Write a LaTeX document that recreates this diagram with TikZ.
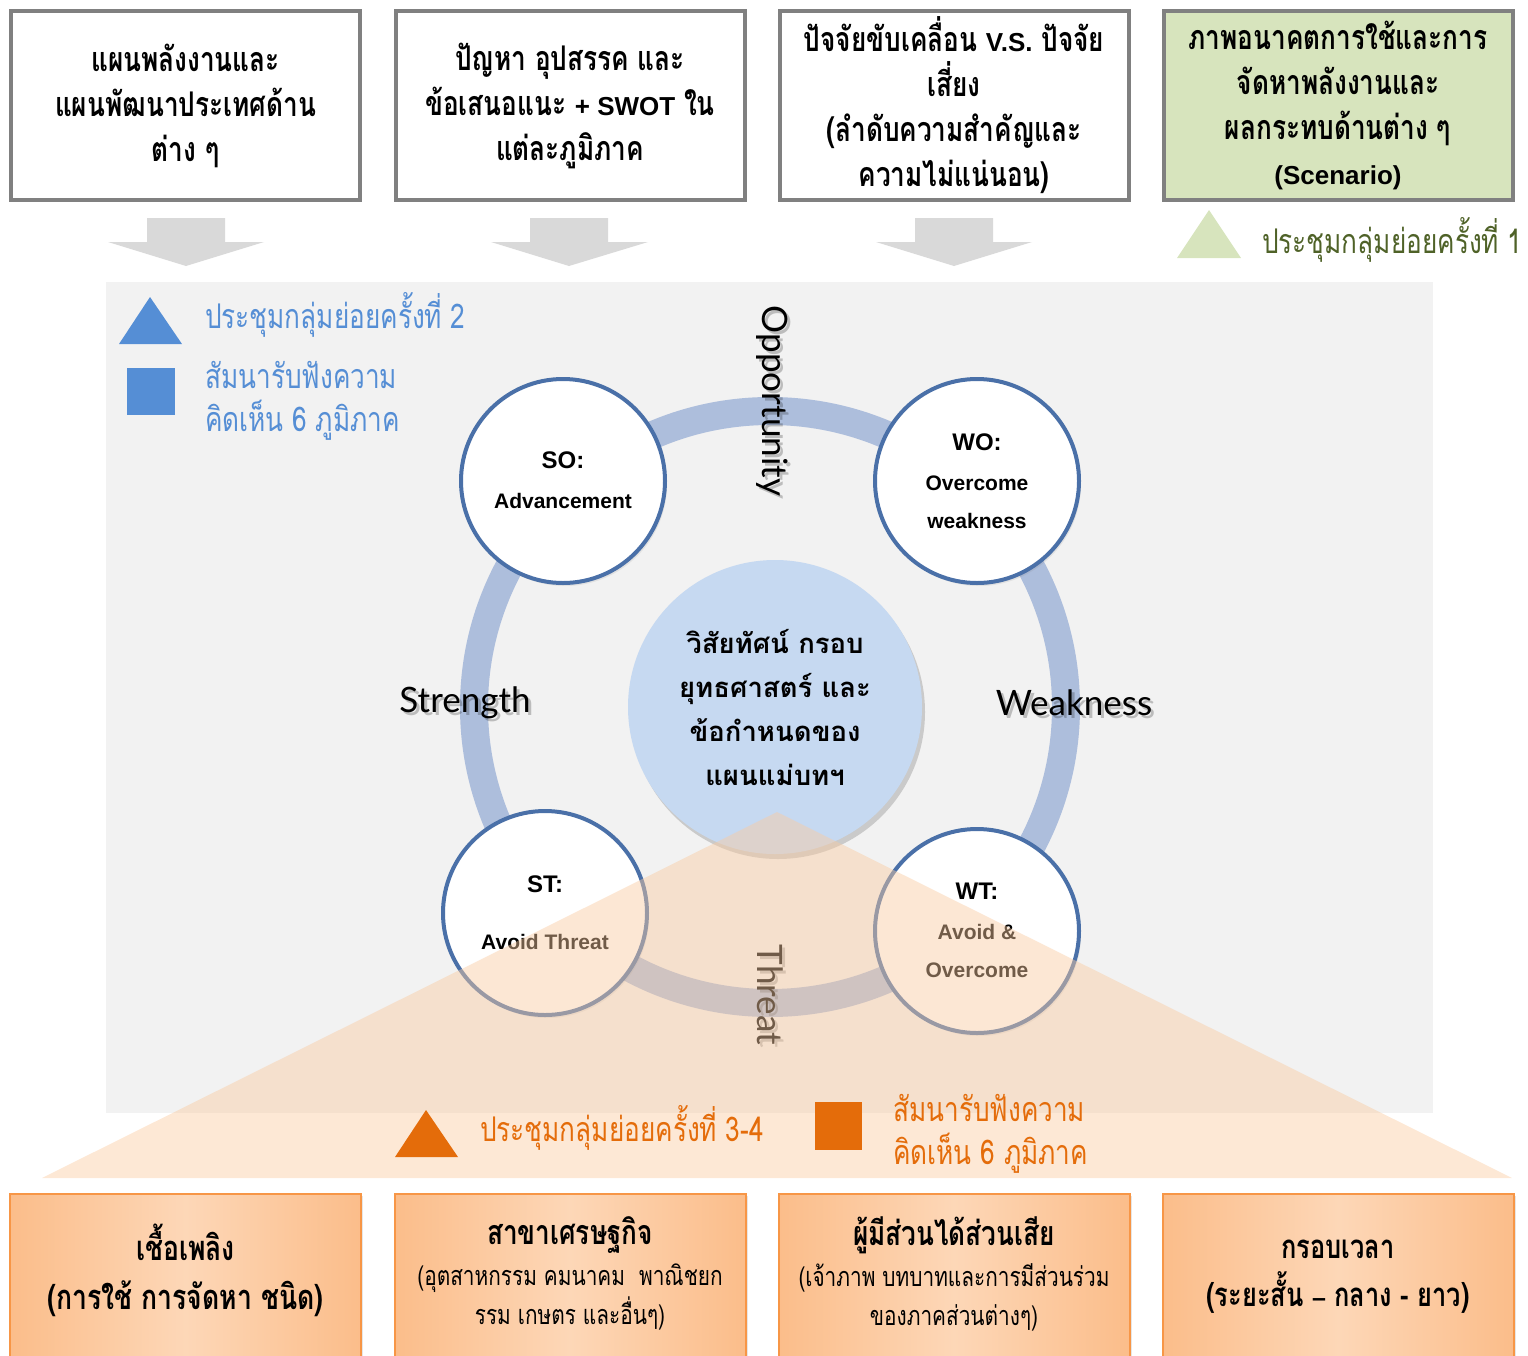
\documentclass[tikz,border=0pt]{standalone}
\usepackage{fontspec}
\setmainfont{Liberation Sans}
\newfontfamily\thai[Script=Thai]{Loma}
\newfontfamily\thaic[Script=Thai,FakeStretch=0.77]{Loma}
\newfontfamily\lsans{Liberation Sans}
\newfontfamily\gill{Lato}
\usetikzlibrary{shadows}
\definecolor{panel}{HTML}{F2F2F2}
\definecolor{arrowgray}{HTML}{D9D9D9}
\definecolor{boxgray}{HTML}{808080}
\definecolor{scen}{HTML}{D7E4BD}
\definecolor{olive}{HTML}{4F6228}
\definecolor{legblue}{HTML}{558ED5}
\definecolor{ringc}{HTML}{ADBEDC}
\definecolor{circb}{HTML}{4A70A8}
\definecolor{core}{HTML}{C6D9F1}
\definecolor{overlayc}{HTML}{FACBA1}
\definecolor{legorange}{HTML}{E46C0A}
\definecolor{orEdge}{HTML}{FBBD8A}
\definecolor{orMid}{HTML}{FDD7B7}
\definecolor{orBorder}{HTML}{F79646}
\newcommand\latinbit[1]{{\lsans\bfseries\fontsize{26}{45}\selectfont #1}}
\begin{document}
\begin{tikzpicture}[x=1pt,y=-1pt,
  topbox/.style={draw=boxgray, line width=4pt, fill=white, minimum width=349pt, minimum height=189pt, align=center, inner sep=0pt,
    drop shadow={opacity=0.25, shadow xshift=2pt, shadow yshift=-2pt},
    font=\thaic\bfseries\fontsize{34}{45}\selectfont},
  botbox/.style={draw=orBorder, line width=2pt, left color=orEdge, right color=orEdge, middle color=orMid,
    minimum width=351pt, minimum height=172pt, align=center, inner sep=0pt,
    drop shadow={opacity=0.2, shadow xshift=2pt, shadow yshift=-2pt}},
  circ/.style={circle, draw=circb, line width=4pt, fill=white, minimum size=204pt, inner sep=0pt},
  clbl/.style={font=\lsans\bfseries\fontsize{21}{24}\selectfont, inner sep=0pt},
  chead/.style={font=\lsans\bfseries\fontsize{24}{28}\selectfont, inner sep=0pt},
  swot/.style={font=\gill\fontsize{35}{40}\selectfont, inner sep=0pt},
  swotshadow/.style={font=\gill\fontsize{35}{40}\selectfont, inner sep=0pt, text=black, opacity=0.22},
  legtext/.style={font=\thaic\fontsize{34}{43}\selectfont, inner sep=0pt, anchor=west, align=left},
  blkarrow/.style={fill=arrowgray}
]
\useasboundingbox (0,0) rectangle (1528,1355);
\clip (0,0) rectangle (1528,1355);

% grey panel
\fill[panel] (106,282) rectangle (1433,1113);

% top boxes
\node[topbox] (b1) at (185.5,105.5) {แผนพลังงานและ\\แผนพัฒนาประเทศด้าน\\ต่าง ๆ};
\node[topbox] (b2) at (570,105.5) {ปัญหา อุปสรรค และ\\ข้อเสนอแนะ \latinbit{+ SWOT} ใน\\แต่ละภูมิภาค};
\node[topbox] (b3) at (954,105.5) {ปัจจัยขับเคลื่อน \latinbit{V.S.} ปัจจัย\\เสี่ยง\\(ลำดับความสำคัญและ\\ความไม่แน่นอน)};
\node[topbox, fill=scen] (b4) at (1338,105.5) {ภาพอนาคตการใช้และการ\\จัดหาพลังงานและ\\ผลกระทบด้านต่าง ๆ\\\latinbit{(Scenario)}};

% block arrows
\fill[blkarrow] (147,218) -- (225,218) -- (225,242) -- (264,242) -- (186,266) -- (108,242) -- (147,242) -- cycle;
\fill[blkarrow] (530,218) -- (608,218) -- (608,242) -- (648,242) -- (569,266) -- (491,242) -- (530,242) -- cycle;
\fill[blkarrow] (915,218) -- (993,218) -- (993,242) -- (1032,242) -- (954,266) -- (876,242) -- (915,242) -- cycle;

% legend 1
\fill[scen] (1177,258) -- (1241,258) -- (1209,210) -- cycle;
\node[legtext, text=olive] (leg1) at (1262,240) {ประชุมกลุ่มย่อยครั้งที่ 1};

% legend 2
\fill[legblue] (119,344) -- (182,344) -- (150,297) -- cycle;
\fill[legblue] (127,368) rectangle (175,415);
\node[legtext, text=legblue] (leg2) at (205,315) {ประชุมกลุ่มย่อยครั้งที่ 2};
\node[legtext, text=legblue] (leg2b) at (205,401) {สัมนารับฟังความ\\คิดเห็น 6 ภูมิภาค};

% ring
\draw[ringc, line width=28pt] (770,707) circle (296);

% labels with shadows
\node[swotshadow, rotate=-90] at (775,404) {Opportunity};
\node[swot, rotate=-90] (opp) at (772,401) {Opportunity};
\node[swotshadow] at (468,706) {Strength};
\node[swot] (str) at (465,703) {Strength};
\node[swotshadow] at (1077,706) {Weakness};
\node[swot] (weak) at (1074,703) {Weakness};
\node[swotshadow, rotate=-90] at (773,998) {Threat};
\node[swot, rotate=-90] (thr) at (770,995) {Threat};

% SWOT circles
\node[circ, drop shadow={opacity=0.15, shadow xshift=2pt, shadow yshift=-3pt}] (so) at (563,481) {};
\node[circ, drop shadow={opacity=0.15, shadow xshift=2pt, shadow yshift=-3pt}] (wo) at (977,481) {};
\node[circ, drop shadow={opacity=0.15, shadow xshift=2pt, shadow yshift=-3pt}] (st) at (545,913) {};
\node[circ, drop shadow={opacity=0.15, shadow xshift=2pt, shadow yshift=-3pt}] (wt) at (977,931) {};

\node[chead] (so-h) at (563,460) {SO:};
\node[clbl] (so-t) at (563,501) {Advancement};
\node[chead] (wo-h) at (977,442) {WO:};
\node[clbl] (wo-t1) at (977,483) {Overcome};
\node[clbl] (wo-t2) at (977,521) {weakness};
\node[chead] (st-h) at (545,884) {ST:};
\node[clbl] (st-t) at (545,942) {Avoid Threat};
\node[chead] (wt-h) at (977,891) {WT:};
\node[clbl] (wt-t1) at (977,932) {Avoid \&};
\node[clbl] (wt-t2) at (977,970) {Overcome};

% core circle
\node[circle, fill=core, minimum size=294pt, inner sep=0pt, align=center,
      drop shadow={opacity=0.35, shadow xshift=3pt, shadow yshift=-5pt},
      font=\thai\bfseries\fontsize{27.5}{44}\selectfont] (core) at (775,707)
      {วิสัยทัศน์ กรอบ\\ยุทธศาสตร์ และ\\ข้อกำหนดของ\\แผนแม่บทฯ};

% translucent orange triangle
\fill[overlayc, opacity=0.45] (777,812) -- (1512,1178) -- (42,1178) -- cycle;

% legend 3-4
\fill[legorange] (395,1157) -- (458,1157) -- (426,1110) -- cycle;
\fill[legorange] (815,1102) rectangle (862,1150);
\node[legtext, text=legorange] (leg3) at (480,1128) {ประชุมกลุ่มย่อยครั้งที่ 3-4};
\node[legtext, text=legorange] (leg3b) at (893,1134) {สัมนารับฟังความ\\คิดเห็น 6 ภูมิภาค};

% bottom boxes
\node[botbox] (c1) at (185.5,1280) {};
\node[botbox] (c2) at (570,1280) {};
\node[botbox] (c3) at (954,1280) {};
\node[botbox] (c4) at (1338,1280) {};

\node[font=\thaic\bfseries\fontsize{34.5}{49}\selectfont, align=center, inner sep=0pt] (c1t) at (185.5,1270)
  {เชื้อเพลิง\\(การใช้ การจัดหา ชนิด)};
\node[font=\thaic\bfseries\fontsize{34}{40}\selectfont, inner sep=0pt] (c2h) at (570,1235) {สาขาเศรษฐกิจ};
\node[font=\thaic\fontsize{27}{39}\selectfont, align=center, inner sep=0pt] (c2t) at (570,1297)
  {(อุตสาหกรรม คมนาคม\ \ พาณิชยก\\รรม เกษตร และอื่นๆ)};
\node[font=\thaic\bfseries\fontsize{34}{40}\selectfont, inner sep=0pt] (c3h) at (954,1235) {ผู้มีส่วนได้ส่วนเสีย};
\node[font=\thaic\fontsize{27}{39}\selectfont, align=center, inner sep=0pt] (c3t) at (954,1297)
  {(เจ้าภาพ บทบาทและการมีส่วนร่วม\\ของภาคส่วนต่างๆ)};
\node[font=\thaic\bfseries\fontsize{33}{48}\selectfont, align=center, inner sep=0pt] (c4t) at (1338,1277)
  {กรอบเวลา\\(ระยะสั้น {\lsans\bfseries\fontsize{25}{48}\selectfont –} กลาง - ยาว)};
\end{tikzpicture}
\end{document}
